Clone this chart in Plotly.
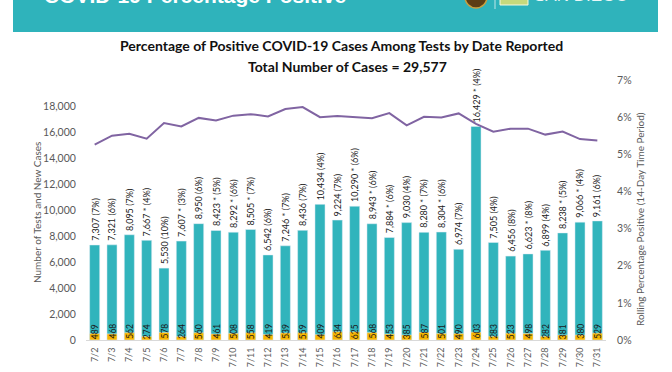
import plotly.graph_objects as go

dates = ["7/2","7/3","7/4","7/5","7/6","7/7","7/8","7/9","7/10","7/11","7/12","7/13","7/14","7/15","7/16",
         "7/17","7/18","7/19","7/20","7/21","7/22","7/23","7/24","7/25","7/26","7/27","7/28","7/29","7/30","7/31"]
tests = [7307,7321,8095,7667,5530,7607,8950,8423,8292,8505,6542,7246,8436,10434,9224,
         10290,8943,7884,9030,8280,8304,6974,16429,7505,6456,6623,6899,8238,9066,9161]
daily_pct = [7,6,7,4,10,3,6,5,6,7,6,7,7,4,7,6,6,6,4,7,6,7,4,4,8,8,4,5,4,6]
flagged = [0,0,0,1,0,1,0,1,1,1,0,1,0,0,0,1,1,1,0,1,1,0,1,0,0,1,0,1,1,0]
cases = [489,468,562,274,578,264,560,461,508,558,419,539,559,409,634,
         625,568,453,385,587,501,490,603,283,523,498,282,381,380,529]
rolling = [5.26,5.50,5.55,5.42,5.84,5.75,5.98,5.91,6.04,6.08,6.02,6.22,6.27,6.00,6.03,
           6.01,5.97,6.11,5.78,6.01,5.99,6.10,5.82,5.61,5.69,5.69,5.53,5.61,5.41,5.37]
left_ticks = [0,2000,4000,6000,8000,10000,12000,14000,16000,18000]
right_ticks = [0,1,2,3,4,5,6,7]

FONT = "Lato"
TEAL = "#31b4bc"
GOLD = "#f7b500"
PURPLE = "#8064a2"
GRAY = "#595959"

W, H = 672, 372
L, R, T, B = 86, 66, 80, 32
PW, PH = W - L - R, H - T - B

def px(x):
    return (x - L) / PW

def py(y):
    return (H - B - y) / PH

fig = go.Figure()
fig.add_trace(go.Bar(x=dates, y=tests, marker_color=TEAL, width=0.58, name="Tests"))
fig.add_trace(go.Bar(x=dates, y=cases, marker_color=GOLD, width=0.58, name="New Cases"))
fig.add_trace(go.Scatter(x=dates, y=rolling, yaxis="y2", mode="lines",
                         line=dict(color=PURPLE, width=2), name="Rolling %"))

annotations = []
for d, t, p, f, c in zip(dates, tests, daily_pct, flagged, cases):
    label = f"{t:,}" + (" *" if f else "") + f" ({p}%)"
    annotations.append(dict(x=d, y=t, xref="x", yref="y", text=label, textangle=-90,
                            showarrow=False, yanchor="bottom", xanchor="center", yshift=2,
                            font=dict(family=FONT, size=9, color="#1a1a1a")))
    annotations.append(dict(x=d, y=0, xref="x", yref="y", text=str(c), textangle=-90,
                            showarrow=False, yanchor="bottom", xanchor="center", yshift=-1,
                            font=dict(family=FONT, size=8.5, color="#1a1a1a")))

# titles
annotations.append(dict(x=px(341), y=py(45), xref="paper", yref="paper", showarrow=False,
                        text="<b>Percentage of Positive COVID-19 Cases Among Tests by Date Reported</b>",
                        font=dict(family=FONT, size=14, color="#111111"), xanchor="center", yanchor="middle"))
annotations.append(dict(x=px(347), y=py(66), xref="paper", yref="paper", showarrow=False,
                        text="<b>Total Number of Cases = 29,577</b>",
                        font=dict(family=FONT, size=14, color="#111111"), xanchor="center", yanchor="middle"))
# axis titles
annotations.append(dict(x=px(37), y=py(213), xref="paper", yref="paper", showarrow=False,
                        text="Number of Tests and New Cases", textangle=-90,
                        xanchor="center", yanchor="middle",
                        font=dict(family=FONT, size=10, color=GRAY)))
annotations.append(dict(x=px(640), y=py(219), xref="paper", yref="paper", showarrow=False,
                        text="Rolling Percentage Positive (14-Day Time Period)", textangle=-90,
                        xanchor="center", yanchor="middle",
                        font=dict(family=FONT, size=10, color=GRAY)))
# header text (cut off at top)
annotations.append(dict(x=px(42), y=py(9), xref="paper", yref="paper", showarrow=False,
                        text="<b>COVID-19 Percentage Positive</b>", xanchor="left", yanchor="bottom",
                        font=dict(family="Liberation Sans", size=21, color="white")))
annotations.append(dict(x=px(532), y=py(7), xref="paper", yref="paper", showarrow=False,
                        text="SAN DIEGO", xanchor="left", yanchor="bottom",
                        font=dict(family="Liberation Sans", size=17, color="#e9f7f7")))

shapes = [
    dict(type="rect", xref="paper", yref="paper", x0=px(13), x1=px(658), y0=py(32), y1=py(-10),
         fillcolor="#2fb3bb", line=dict(width=0), layer="below"),
    dict(type="circle", xref="paper", yref="paper", x0=px(465), x1=px(487), y0=py(8), y1=py(-14),
         fillcolor="#5c3d14", line=dict(color="#c8a040", width=1.5)),
    dict(type="line", xref="paper", yref="paper", x0=px(495), x1=px(495), y0=py(9), y1=py(-5),
         line=dict(color="#bfe6e8", width=1)),
    dict(type="rect", xref="paper", yref="paper", x0=px(500), x1=px(528), y0=py(5), y1=py(-10),
         fillcolor="#c7d97c", line=dict(color="#f4f8e0", width=1)),
]

fig.update_layout(
    width=W, height=H,
    margin=dict(l=L, r=R, t=T, b=B, autoexpand=False),
    paper_bgcolor="white", plot_bgcolor="white",
    barmode="overlay", showlegend=False,
    font=dict(family=FONT, color=GRAY),
    xaxis=dict(type="category", tickangle=-90, tickfont=dict(family=FONT, size=9, color=GRAY),
               showline=True, linecolor="#d9d9d9", linewidth=1, showgrid=False, automargin=False,
               ticks="outside", ticklen=3, tickcolor="rgba(0,0,0,0)"),
    yaxis=dict(range=[0, 20000], tickvals=left_ticks, tickformat=",", showgrid=False, zeroline=False,
               automargin=False, tickfont=dict(family=FONT, size=10.5, color=GRAY),
               ticks="outside", ticklen=7, tickcolor="rgba(0,0,0,0)"),
    yaxis2=dict(range=[0, 7], overlaying="y", side="right", tickvals=right_ticks,
                ticktext=[f"{v}%" for v in right_ticks], showgrid=False, zeroline=False,
                automargin=False, tickfont=dict(family=FONT, size=10.5, color=GRAY),
                ticks="outside", ticklen=8, tickcolor="rgba(0,0,0,0)"),
    annotations=annotations,
    shapes=shapes,
)

fig.write_html("out.html", config={"displayModeBar": False},
               post_script="document.body.style.margin='0';")
